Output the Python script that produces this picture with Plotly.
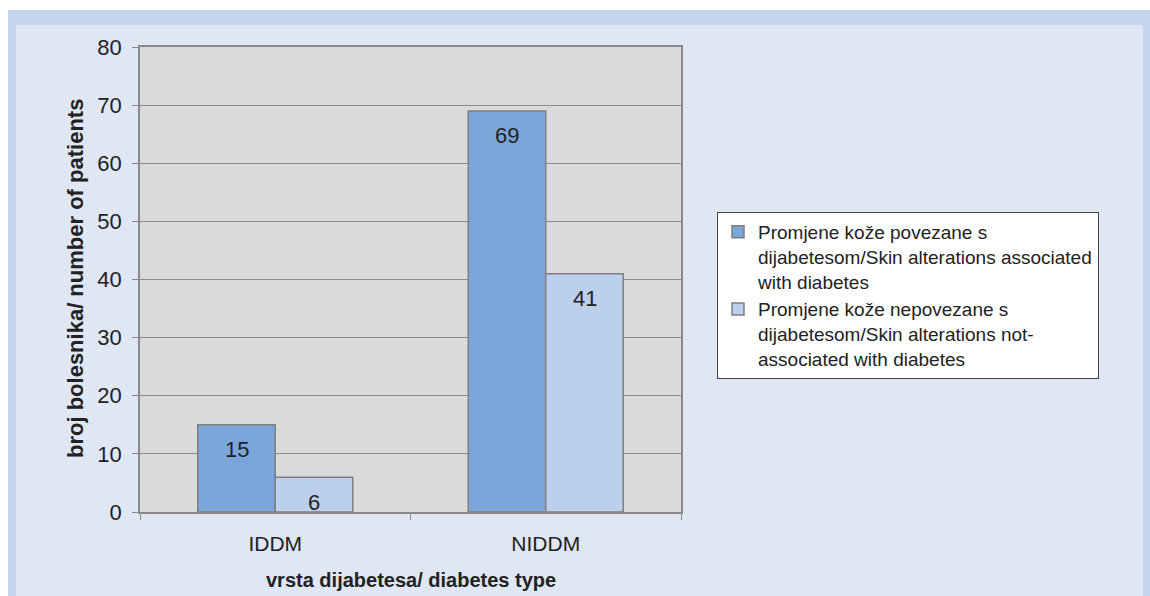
import plotly.graph_objects as go

categories = ["IDDM", "NIDDM"]
series_names = [
    "Promjene kože povezane s<br>dijabetesom/Skin alterations associated<br>with diabetes",
    "Promjene kože nepovezane s<br>dijabetesom/Skin alterations not-<br>associated with diabetes",
]
associated = [15, 69]
not_associated = [6, 41]
y_ticks = [0, 10, 20, 30, 40, 50, 60, 70, 80]

W, H = 1150, 596
L, R, T, B = 140, 681, 47, 512
FONT = "Liberation Sans, Arial, sans-serif"

def px_x(p):
    return (p - L) / (R - L)

def px_y(p):
    return (B - p) / (B - T)

colors = ["#7ba6d9", "#bccfec"]
fig = go.Figure()
for name, vals, col in zip(series_names, [associated, not_associated], colors):
    fig.add_trace(go.Bar(
        x=categories, y=vals, name=name,
        marker=dict(color=col, line=dict(color="#7f7f7f", width=1.5)),
    ))

# value labels near the top inside each bar
ann = []
for i, vals in enumerate([associated, not_associated]):
    shift = -38.75 if i == 0 else 38.75
    for c, v in zip(categories, vals):
        ann.append(dict(x=c, y=v, xref="x", yref="y", text=str(v), showarrow=False,
                        xshift=shift, yshift=-25, xanchor="center", yanchor="middle",
                        font=dict(family=FONT, size=22, color="#222222")))

ann.append(dict(x=px_x(75), y=px_y(279), xref="paper", yref="paper", textangle=-90,
                xanchor="center", yanchor="middle",
                text="<b>broj bolesnika/ number of patients</b>", showarrow=False,
                font=dict(family=FONT, size=22, color="#222222")))
ann.append(dict(x=px_x(411), y=px_y(580), xref="paper", yref="paper",
                xanchor="center", yanchor="middle",
                text="<b>vrsta dijabetesa/ diabetes type</b>", showarrow=False,
                font=dict(family=FONT, size=20, color="#222222")))

outer = "#c6d5ee"
inner = "#dfe6f4"
shapes = [
    dict(type="rect", xref="paper", yref="paper", x0=px_x(0), x1=px_x(W), y0=px_y(0), y1=px_y(10),
         fillcolor="white", line=dict(width=0), layer="below"),
    dict(type="rect", xref="paper", yref="paper", x0=px_x(0), x1=px_x(8), y0=px_y(0), y1=px_y(H),
         fillcolor="white", line=dict(width=0), layer="below"),
    dict(type="rect", xref="paper", yref="paper", x0=px_x(8), x1=px_x(W), y0=px_y(10), y1=px_y(25),
         fillcolor=outer, line=dict(width=0), layer="below"),
    dict(type="rect", xref="paper", yref="paper", x0=px_x(8), x1=px_x(16), y0=px_y(10), y1=px_y(H),
         fillcolor=outer, line=dict(width=0), layer="below"),
    dict(type="rect", xref="paper", yref="paper", x0=px_x(1143), x1=px_x(W), y0=px_y(10), y1=px_y(H),
         fillcolor=outer, line=dict(width=0), layer="below"),
]

fig.update_layout(
    width=W, height=H,
    margin=dict(l=L, r=W - R, t=T, b=H - B, pad=0),
    paper_bgcolor=inner, plot_bgcolor="#dadada",
    barmode="group", bargap=0.427, bargroupgap=0,
    font=dict(family=FONT, size=20, color="#222222"),
    showlegend=True,
    legend=dict(x=px_x(717), y=px_y(212), xanchor="left", yanchor="top",
                bgcolor="white", bordercolor="#444444", borderwidth=1,
                font=dict(family=FONT, size=19, color="#222222"),
                tracegroupgap=2, itemwidth=30, valign="top"),
    annotations=ann, shapes=shapes,
)
fig.update_yaxes(range=[0, 80], tickvals=y_ticks, ticks="outside", ticklen=6,
                 tickcolor="#8a8a8a", showgrid=True, gridcolor="#8c8c8c", gridwidth=1,
                 showline=True, linecolor="#8a8a8a", linewidth=1.5, mirror=True,
                 zeroline=False, tickfont=dict(size=22), ticklabelstandoff=6)
fig.update_xaxes(tickson="boundaries", ticks="outside", ticklen=6, tickcolor="#8a8a8a",
                 showline=True, linecolor="#8a8a8a", linewidth=1.5, mirror=True,
                 showgrid=False, tickfont=dict(size=21), ticklabelstandoff=12)

fig.write_html("out.html")
